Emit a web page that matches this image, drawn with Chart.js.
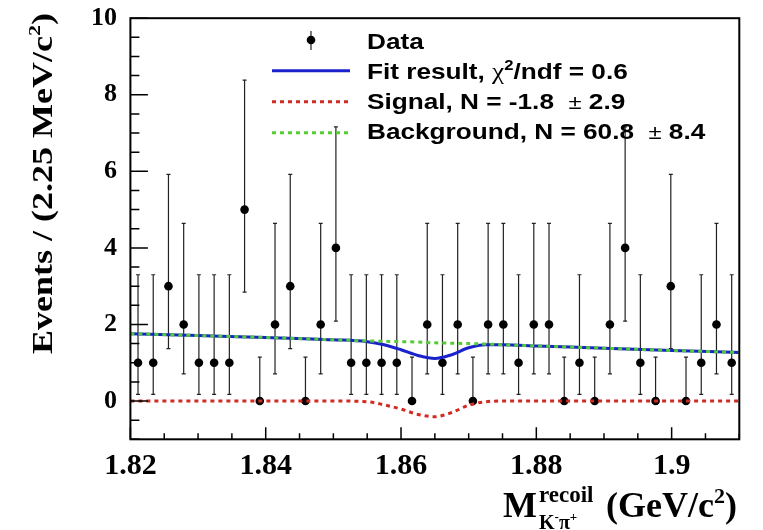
<!DOCTYPE html>
<html><head><meta charset="utf-8">
<script src="https://cdn.jsdelivr.net/npm/chart.js@4.4.0/dist/chart.umd.min.js"></script>
<style>html,body{margin:0;padding:0;background:#fff;}canvas{display:block;}</style>
</head><body>
<canvas id="c" width="763" height="530"></canvas>
<script>
// ---- data ----
const binCenters = [1.821125,1.823375,1.825625,1.827875,1.830125,1.832375,1.834625,1.836875,1.839125,1.841375,
  1.843625,1.845875,1.848125,1.850375,1.852625,1.854875,1.857125,1.859375,1.861625,1.863875,
  1.866125,1.868375,1.870625,1.872875,1.875125,1.877375,1.879625,1.881875,1.884125,1.886375,
  1.888625,1.890875,1.893125,1.895375,1.897625,1.899875,1.902125,1.904375,1.906625,1.908875];
const counts = [1,1,3,2,1,1,1,5,0,2, 3,0,2,4,1,1,1,1,0,2, 1,2,0,2,2,1,2,2,0,1, 0,2,4,1,0,3,0,1,2,1];
// Poisson interval half-widths by count (as drawn)
const poissonLow  = [0, 0.827, 1.292, 1.633, 1.914, 2.158];
const poissonHigh = [1.147, 2.299, 2.638, 2.918, 3.162, 3.382];

const curveX      = [1.82,1.83,1.84,1.85,1.855,1.8575,1.86,1.8625,1.865,1.8675,1.87,1.8725,1.875,1.88,1.89,1.90,1.91];
const fitY        = [1.76,1.71,1.66,1.60,1.55,1.47,1.34,1.19,1.11,1.21,1.39,1.47,1.47,1.44,1.38,1.32,1.27];
const signalY     = [0,0,0,0,-0.02,-0.10,-0.21,-0.35,-0.41,-0.30,-0.11,-0.02,0,0,0,0,0];
const backgroundY = [1.76,1.71,1.66,1.60,1.57,1.56,1.55,1.54,1.52,1.51,1.50,1.49,1.47,1.44,1.38,1.32,1.27];

const xTicks = [1.82,1.84,1.86,1.88,1.90];
const yTicks = [0,2,4,6,8,10];

const BLUE = '#1a22cc', RED = '#d22a20', GREEN = '#55cc33';
const SERIF = '"Liberation Serif","Times New Roman",serif';
const SANS = '"Liberation Sans",Arial,sans-serif';

const errLow  = counts.map(n => poissonLow[n]);
const errHigh = counts.map(n => poissonHigh[n]);

function drawParts(ctx, parts, x, y, sx) {
  let cx = x;
  for (const p of parts) {
    ctx.font = p.font;
    ctx.save();
    ctx.translate(cx, y + (p.dy || 0));
    ctx.scale(sx, 1);
    ctx.fillText(p.t, 0, 0);
    ctx.restore();
    cx += ctx.measureText(p.t).width * sx + (p.gap || 0);
  }
  return cx - x;
}
function partsWidth(ctx, parts) {
  let w = 0;
  for (const p of parts) { ctx.font = p.font; w += ctx.measureText(p.t).width + (p.gap || 0); }
  return w;
}

const errorBars = {
  id: 'errorBars',
  beforeDatasetsDraw(chart) {
    const {ctx, scales: {x, y}} = chart;
    ctx.save();
    ctx.strokeStyle = '#222';
    ctx.lineWidth = 1.2;
    counts.forEach((n, i) => {
      const px = x.getPixelForValue(binCenters[i]);
      const lo = y.getPixelForValue(n - errLow[i]);
      const hi = y.getPixelForValue(n + errHigh[i]);
      ctx.beginPath();
      ctx.moveTo(px, lo); ctx.lineTo(px, hi);
      ctx.moveTo(px - 2, hi); ctx.lineTo(px + 2, hi);
      if (errLow[i] > 0) { ctx.moveTo(px - 2, lo); ctx.lineTo(px + 2, lo); }
      ctx.stroke();
    });
    ctx.restore();
  }
};

const frameAndText = {
  id: 'frameAndText',
  afterDraw(chart) {
    const {ctx, chartArea: a, scales: {x, y}} = chart;
    ctx.save();
    // frame
    ctx.strokeStyle = '#000';
    ctx.lineWidth = 2;
    ctx.strokeRect(a.left, a.top, a.right - a.left, a.bottom - a.top);
    // inward ticks
    ctx.lineWidth = 1.5;
    ctx.beginPath();
    for (let v = -1; v <= 10.001; v += 0.5) {
      const py = y.getPixelForValue(v);
      const major = Math.abs(v / 2 - Math.round(v / 2)) < 1e-6;
      ctx.moveTo(a.left, py); ctx.lineTo(a.left + (major ? 17.5 : 9), py);
    }
    for (let k = 0; k <= 18; k++) {
      const v = 1.82 + k * 0.005;
      const px = x.getPixelForValue(v);
      const major = k % 4 === 0;
      ctx.moveTo(px, a.bottom); ctx.lineTo(px, a.bottom - (major ? 12 : 6));
    }
    ctx.stroke();

    ctx.fillStyle = '#000';
    ctx.textBaseline = 'alphabetic';
    ctx.textAlign = 'left';

    // y-axis title (rotated)
    ctx.save();
    ctx.translate(51.5, 13);
    ctx.rotate(-Math.PI / 2);
    ctx.scale(1, 0.8);
    const yParts = [
      {t: 'Events / (2.25 MeV/c', font: 'bold 36px ' + SERIF},
      {t: '2', font: 'bold 22px ' + SERIF, dy: -14},
      {t: ')', font: 'bold 36px ' + SERIF}
    ];
    const yw = partsWidth(ctx, yParts);
    drawParts(ctx, yParts, -yw, 0, 1);
    ctx.restore();

    // x-axis title
    ctx.font = 'bold 36px ' + SERIF;
    ctx.fillText('M', 503, 517);
    ctx.font = 'bold 23px ' + SERIF;
    ctx.fillText('recoil', 539, 502);
    drawParts(ctx, [
      {t: 'K', font: 'bold 20px ' + SERIF},
      {t: '-', font: 'bold 13px ' + SERIF, dy: -8},
      {t: 'π', font: 'bold 20px ' + SERIF},
      {t: '+', font: 'bold 13px ' + SERIF, dy: -8}
    ], 539, 529, 1);
    drawParts(ctx, [
      {t: '(GeV/c', font: 'bold 36px ' + SERIF},
      {t: '2', font: 'bold 22px ' + SERIF, dy: -14},
      {t: ')', font: 'bold 36px ' + SERIF}
    ], 606, 517, 1);

    // legend
    const LX0 = 272, LX1 = 350, TX = 367, SX = 1.19;
    const rows = [40, 70.7, 101.7, 132.7];
    ctx.strokeStyle = '#222'; ctx.lineWidth = 1.2;
    ctx.beginPath(); ctx.moveTo(311, 31); ctx.lineTo(311, 50); ctx.stroke();
    ctx.beginPath(); ctx.arc(311, 40, 4.3, 0, Math.PI * 2); ctx.fill();
    ctx.lineWidth = 3;
    ctx.strokeStyle = BLUE; ctx.setLineDash([]);
    ctx.beginPath(); ctx.moveTo(LX0, rows[1]); ctx.lineTo(LX1, rows[1]); ctx.stroke();
    ctx.setLineDash([4, 4]);
    ctx.strokeStyle = RED;
    ctx.beginPath(); ctx.moveTo(LX0, rows[2]); ctx.lineTo(LX1, rows[2]); ctx.stroke();
    ctx.strokeStyle = GREEN;
    ctx.beginPath(); ctx.moveTo(LX0, rows[3]); ctx.lineTo(LX1, rows[3]); ctx.stroke();
    ctx.setLineDash([]);

    const B = 'bold 22px ' + SANS, R = '20px ' + SANS;
    drawParts(ctx, [{t: 'Data', font: B}], TX, 48.5, SX);
    drawParts(ctx, [
      {t: 'Fit result, ', font: B},
      {t: 'χ', font: '23px ' + SERIF},
      {t: '2', font: 'bold 14px ' + SANS, dy: -9},
      {t: '/ndf = 0.6', font: B}
    ], TX, 78.8, SX);
    drawParts(ctx, [
      {t: 'Signal, N = -1.8  ', font: B},
      {t: '±', font: R},
      {t: ' 2.9', font: B}
    ], TX, 108.8, SX);
    drawParts(ctx, [
      {t: 'Background, N = 60.8  ', font: B},
      {t: '±', font: R},
      {t: ' 8.4', font: B}
    ], TX, 138.8, SX);
    ctx.restore();
  }
};

const curve = (xs, ys) => xs.map((v, i) => ({x: v, y: ys[i]}));

new Chart(document.getElementById('c'), {
  type: 'scatter',
  data: {
    datasets: [
      {label: 'Background', type: 'line', data: curve(curveX, backgroundY), borderColor: GREEN, borderWidth: 3,
       borderDash: [4, 4], pointRadius: 0, fill: false, cubicInterpolationMode: 'monotone'},
      {label: 'Signal', type: 'line', data: curve(curveX, signalY), borderColor: RED, borderWidth: 3,
       borderDash: [4, 4], pointRadius: 0, fill: false, cubicInterpolationMode: 'monotone'},
      {label: 'Fit result', type: 'line', data: curve(curveX, fitY), borderColor: BLUE, borderWidth: 3,
       pointRadius: 0, fill: false, cubicInterpolationMode: 'monotone'},
      {label: 'Data', data: curve(binCenters, counts), pointRadius: 4.3, pointBackgroundColor: '#000',
       pointBorderWidth: 0, showLine: false}
    ]
  },
  options: {
    responsive: false, animation: false, devicePixelRatio: 1,
    layout: {padding: {left: 0, right: 23.7, top: 18.2, bottom: 0}},
    plugins: {legend: {display: false}, tooltip: {enabled: false}},
    scales: {
      x: {
        type: 'linear', min: 1.82, max: 1.91,
        grid: {display: false, drawTicks: true, tickLength: 9}, border: {display: false},
        afterBuildTicks: s => { s.ticks = xTicks.map(v => ({value: v})); },
        afterFit: s => { s.height = 90.7; s.paddingLeft = 0; s.paddingRight = 0; },
        ticks: {font: {family: SERIF, size: 30, weight: 'bold'}, color: '#000', padding: 0,
                maxRotation: 0, autoSkip: false, callback: v => String(+(+v).toFixed(2))}
      },
      y: {
        type: 'linear', min: -1, max: 10,
        grid: {display: false, drawTicks: true, tickLength: 13.5}, border: {display: false},
        afterBuildTicks: s => { s.ticks = yTicks.map(v => ({value: v})); },
        afterFit: s => { s.width = 130.4; s.paddingTop = 0; s.paddingBottom = 0; },
        ticks: {font: {family: SERIF, size: 26, weight: 'bold'}, color: '#000', padding: 0,
                autoSkip: false, callback: v => String(v)}
      }
    }
  },
  plugins: [errorBars, frameAndText]
});
</script>
</body></html>
